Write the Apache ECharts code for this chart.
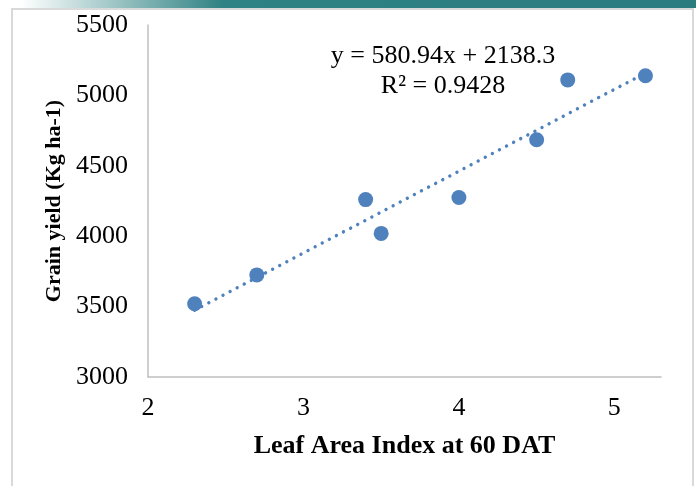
<!DOCTYPE html>
<html>
<head>
<meta charset="utf-8">
<script src="https://cdn.jsdelivr.net/npm/echarts@6/dist/echarts.min.js"></script>
<style>
  html, body { margin: 0; padding: 0; background: #ffffff; }
  #chart { width: 696px; height: 486px; }
</style>
</head>
<body>
<div id="chart"></div>
<script>
// Leaf area index at 60 DAT against grain yield
const laiValues = [2.3, 2.7, 3.4, 3.5, 4.0, 4.5, 4.7, 5.2];
const yieldValues = [3520, 3725, 4260, 4020, 4275, 4685, 5110, 5140];

// Linear trendline fitted to the points
const trendSlope = 580.94;
const trendIntercept = 2138.3;
const trendR2 = 0.9428;

const xAxisTicks = [2, 3, 4, 5];
const yAxisTicks = [3000, 3500, 4000, 4500, 5000, 5500];

const FONT = '"Liberation Serif", "Times New Roman", serif';
const BLUE = '#4f81bd';

const points = laiValues.map((x, i) => [x, yieldValues[i]]);
const xFirst = Math.min(...laiValues);
const xLast = Math.max(...laiValues);
const trendPoints = [xFirst, xLast].map(x => [x, trendSlope * x + trendIntercept]);

const chart = echarts.init(document.getElementById('chart'), null, { renderer: 'canvas' });

chart.setOption({
  animation: false,
  backgroundColor: '#ffffff',
  grid: { left: 148, right: 35, top: 25, bottom: 109 },
  xAxis: {
    type: 'value',
    min: xAxisTicks[0],
    max: 5.3,
    interval: 1,
    name: 'Leaf Area Index at 60 DAT',
    nameLocation: 'middle',
    nameGap: 56,
    nameTextStyle: { fontFamily: FONT, fontSize: 26, fontWeight: 'bold', color: '#000' },
    axisLine: { show: true, lineStyle: { color: '#bfbfbf', width: 1.5 } },
    axisTick: { show: false },
    splitLine: { show: false },
    axisLabel: {
      showMaxLabel: false,
      margin: 18,
      fontFamily: FONT, fontSize: 26, color: '#000',
      formatter: v => (xAxisTicks.includes(v) ? String(v) : '')
    }
  },
  yAxis: {
    type: 'value',
    min: yAxisTicks[0],
    max: yAxisTicks[yAxisTicks.length - 1],
    interval: 500,
    name: 'Grain yield (Kg ha-1)',
    nameLocation: 'middle',
    nameGap: 82,
    nameRotate: 90,
    nameTextStyle: { fontFamily: FONT, fontSize: 22, fontWeight: 'bold', color: '#000' },
    axisLine: { show: true, lineStyle: { color: '#bfbfbf', width: 1.5 } },
    axisTick: { show: false },
    splitLine: { show: false },
    axisLabel: {
      margin: 20,
      fontFamily: FONT, fontSize: 26, color: '#000',
      formatter: v => String(v)
    }
  },
  series: [
    {
      type: 'line',
      data: trendPoints,
      symbol: 'none',
      silent: true,
      z: 1,
      lineStyle: { color: BLUE, width: 3.4, type: [0.01, 8], cap: 'round' }
    },
    {
      type: 'scatter',
      data: points,
      symbol: 'circle',
      symbolSize: 15,
      z: 2,
      itemStyle: { color: BLUE, opacity: 1 }
    }
  ],
  graphic: [
    // slide header band
    {
      type: 'rect',
      shape: { x: 0, y: 0, width: 696, height: 8 },
      style: {
        fill: new echarts.graphic.LinearGradient(0, 0, 1, 0, [
          { offset: 0.03, color: 'rgba(47,130,131,0)' },
          { offset: 0.32, color: 'rgba(47,130,131,1)' },
          { offset: 1, color: 'rgba(42,124,126,1)' }
        ])
      },
      silent: true
    },
    // chart frame
    {
      type: 'rect',
      shape: { x: 12, y: 9, width: 681, height: 490 },
      style: { fill: 'none', stroke: '#d9d9d9', lineWidth: 2 },
      silent: true
    },
    // trendline equation and R²
    {
      type: 'text',
      x: 443, y: 41,
      style: {
        text: 'y = ' + trendSlope.toFixed(2) + 'x + ' + trendIntercept.toFixed(1) + '\nR² = ' + trendR2.toFixed(4),
        font: '26px ' + FONT,
        fill: '#000',
        textAlign: 'center',
        lineHeight: 30
      },
      silent: true
    }
  ]
});
</script>
</body>
</html>
